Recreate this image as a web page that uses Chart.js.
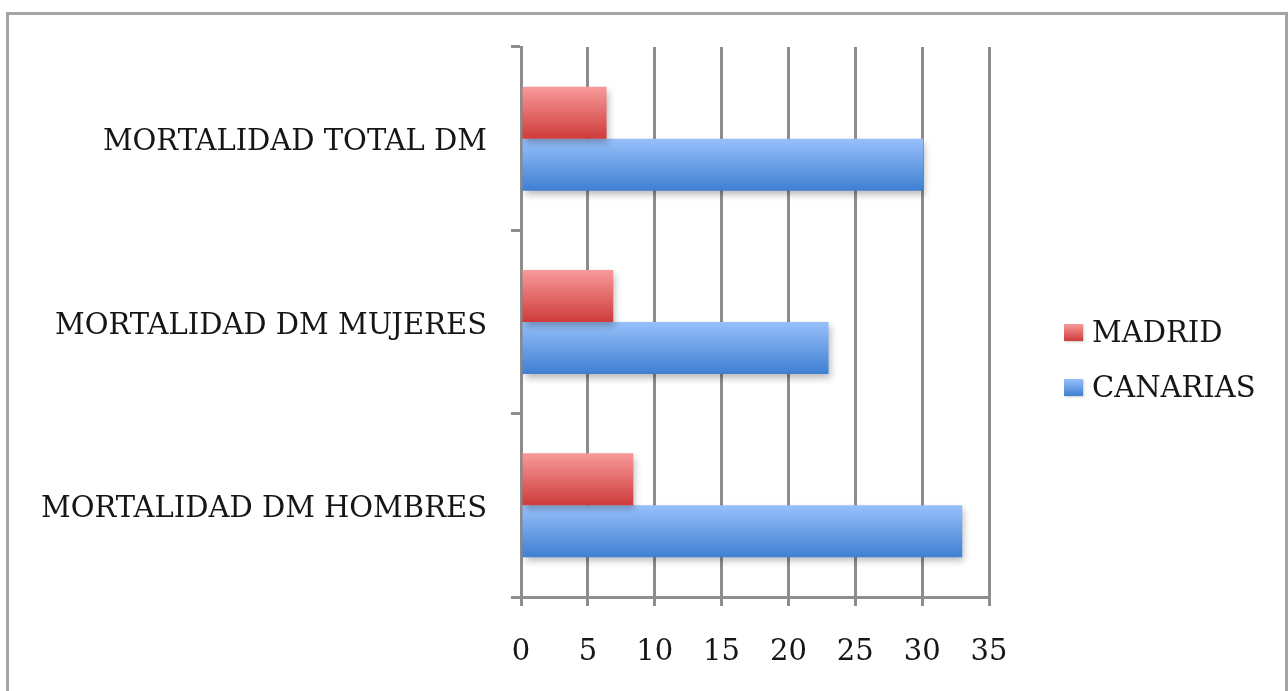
<!DOCTYPE html>
<html>
<head>
<meta charset="utf-8">
<script src="https://cdn.jsdelivr.net/npm/chart.js@4/dist/chart.umd.min.js"></script>
<style>
  html, body { margin: 0; padding: 0; background: #fff; overflow: hidden; }
  #wrap { position: relative; width: 1288px; height: 691px; }
  #grafico { position: absolute; left: 0; top: 0; }
  #marco {
    position: absolute; left: 6px; top: 12px; width: 1276px; height: 700px;
    border: 3px solid #a4a4a4; pointer-events: none;
  }
  #leyenda { position: absolute; left: 1064px; top: 317px; font-family: "DejaVu Serif", serif; font-size: 29px; color: #161616; }
  .item { display: flex; align-items: center; height: 30px; margin-bottom: 25px; white-space: nowrap; }
  .caja { width: 19px; height: 17px; margin-right: 9px; box-shadow: 1px 1px 2px rgba(0,0,0,0.2); }
</style>
</head>
<body>
<div id="wrap">
  <canvas id="grafico" width="1288" height="691"></canvas>
  <div id="marco"></div>
  <div id="leyenda"></div>
</div>
<script>
// Datos
const categorias = ['MORTALIDAD TOTAL DM', 'MORTALIDAD DM MUJERES', 'MORTALIDAD DM HOMBRES'];
const madrid = [6.4, 6.9, 8.4];
const canarias = [30.1, 23.0, 33.0];
const series = ['MADRID', 'CANARIAS'];

const ejeMin = 0;
const ejeMax = 35;
const ejePaso = 5;

// Colores (arriba / abajo del degradado)
const colores = [
  ['#f89a9a', '#cf3b3b'],
  ['#97c0fa', '#3f7fd2']
];

const catPct = 0.567;
const fuente = { family: '"DejaVu Serif", serif', size: 29 };
const gris = '#8d8d8d';

// degradado vertical para cada barra, calculado con la escala de categorías
const degradado = (arriba, abajo) => (ctx) => {
  const chart = ctx.chart;
  const y = chart.scales.y;
  if (!y || ctx.type !== 'data') return abajo;
  const centro = y.getPixelForValue(ctx.dataIndex);
  const alto = (y.bottom - y.top) / categorias.length * catPct / 2;
  if (!isFinite(centro) || !isFinite(alto) || alto <= 0) return abajo;
  const y0 = ctx.datasetIndex === 0 ? centro - alto : centro;
  const g = chart.ctx.createLinearGradient(0, y0, 0, y0 + alto);
  g.addColorStop(0, arriba);
  g.addColorStop(1, abajo);
  return g;
};

// sombra suave debajo de las barras
const sombra = {
  id: 'sombra',
  beforeDatasetsDraw(chart) {
    const c = chart.ctx;
    c.save();
    c.shadowColor = 'rgba(0,0,0,0.28)';
    c.shadowBlur = 7;
    c.shadowOffsetX = 2;
    c.shadowOffsetY = 4;
  },
  afterDatasetsDraw(chart) {
    chart.ctx.restore();
  }
};

const ctx = document.getElementById('grafico').getContext('2d');
const chart = new Chart(ctx, {
  type: 'bar',
  data: {
    labels: categorias,
    datasets: [
      { label: series[0], data: madrid, backgroundColor: degradado(colores[0][0], colores[0][1]) },
      { label: series[1], data: canarias, backgroundColor: degradado(colores[1][0], colores[1][1]) }
    ]
  },
  options: {
    indexAxis: 'y',
    responsive: false,
    animation: false,
    categoryPercentage: catPct,
    barPercentage: 1,
    layout: { padding: { top: 47, right: 299, bottom: 0, left: 0 } },
    plugins: {
      legend: { display: false },
      tooltip: { enabled: false }
    },
    scales: {
      x: {
        min: ejeMin,
        max: ejeMax,
        ticks: { stepSize: ejePaso, font: fuente, color: '#161616', padding: 29 },
        grid: { color: gris, lineWidth: 3, tickLength: 9, tickColor: gris, tickWidth: 3 },
        border: { display: true, color: gris, width: 3 },
        afterFit: (s) => { s.height = 94; }
      },
      y: {
        offset: true,
        ticks: { font: fuente, color: '#161616', padding: 24, labelOffset: 4 },
        grid: { offset: true, drawOnChartArea: false, tickLength: 10, color: gris, lineWidth: 3 },
        border: { display: true, color: gris, width: 3 },
        afterFit: (s) => { s.width = 521; }
      }
    }
  },
  plugins: [sombra]
});

// leyenda en HTML a partir de los datasets
const leyenda = document.getElementById('leyenda');
chart.data.datasets.forEach((ds, i) => {
  const item = document.createElement('div');
  item.className = 'item';
  const caja = document.createElement('span');
  caja.className = 'caja';
  caja.style.background = `linear-gradient(${colores[i][0]}, ${colores[i][1]})`;
  const txt = document.createElement('span');
  txt.textContent = ds.label;
  item.appendChild(caja);
  item.appendChild(txt);
  leyenda.appendChild(item);
});
</script>
</body>
</html>
